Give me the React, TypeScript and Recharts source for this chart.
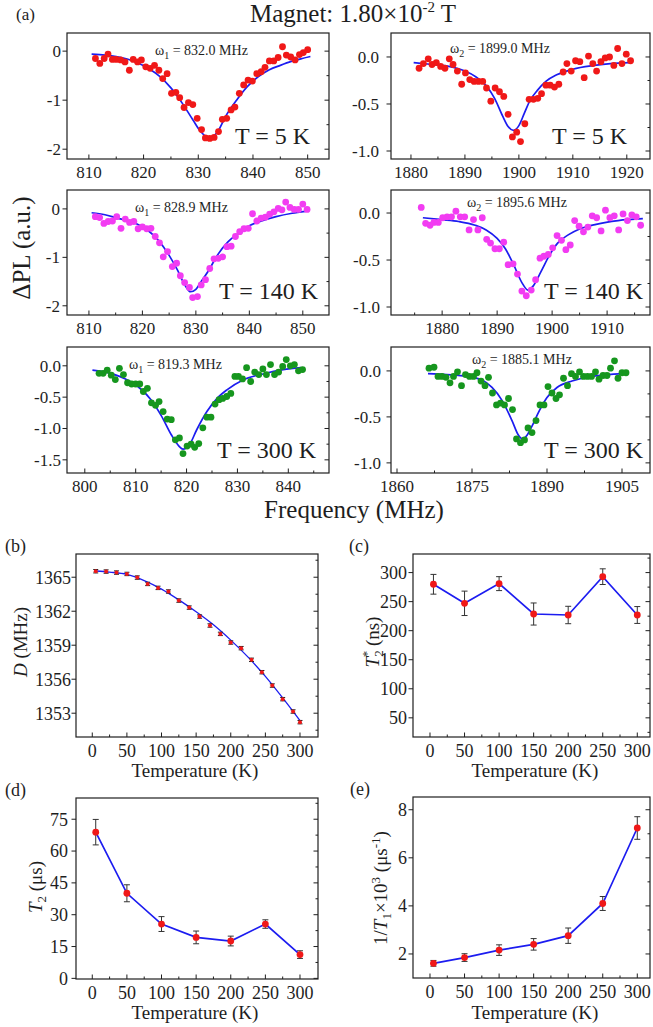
import React from "react";
import { ComposedChart, Scatter, Line, XAxis, YAxis, ErrorBar } from "recharts";

const FONT = '"Liberation Serif","Times New Roman",Times,serif';
const INK = "#1e1e1e";
const BLUE = "#1c1cf0";
const RED = "#f01818";
const MAGENTA = "#f23cf2";
const GREEN = "#16961e";

type P = [number, number];

// ---------- (a) ODMR spectra: [frequency MHz, ΔPL] ----------
const pts5K_w1: P[] = [
  [811.2, -0.15], [812.0, -0.25], [812.8, -0.15], [813.5, -0.06], [814.3, -0.17], [815.0, -0.17],
  [815.8, -0.18], [816.6, -0.22], [817.4, -0.39], [818.1, -0.17], [818.9, -0.22], [819.6, -0.18],
  [820.4, -0.32], [821.2, -0.35], [822.0, -0.29], [822.8, -0.39], [823.5, -0.56], [824.3, -0.46],
  [825.1, -0.86], [825.9, -0.84], [826.6, -0.95], [827.4, -1.15], [828.2, -1.05], [829.0, -1.09],
  [829.8, -1.37], [830.6, -1.6], [831.3, -1.77], [832.1, -1.78], [832.9, -1.76], [833.7, -1.64],
  [834.4, -1.39], [835.2, -1.37], [836.0, -1.2], [836.7, -1.14], [837.5, -0.86], [838.3, -0.69],
  [839.1, -0.59], [839.9, -0.61], [840.7, -0.46], [841.5, -0.42], [842.2, -0.33], [843.0, -0.2],
  [843.8, -0.2], [844.6, -0.13], [845.4, 0.09], [846.1, -0.08], [846.9, -0.12], [847.7, -0.18],
  [848.5, -0.07], [849.2, -0.03], [850.0, 0.03],
];
const fit5K_w1: P[] = [
  [810.5, -0.06], [813, -0.08], [815, -0.11], [817, -0.16], [819, -0.24], [821, -0.36], [823, -0.52],
  [825, -0.75], [827, -1.05], [829, -1.4], [830.5, -1.65], [832, -1.77], [833.5, -1.65], [835, -1.33],
  [837, -1.0], [839, -0.72], [841, -0.52], [843, -0.38], [845, -0.29], [847, -0.21], [849, -0.15], [850.5, -0.11],
];

const pts5K_w2: P[] = [
  [1881.5, -0.12], [1882.3, -0.07], [1883.2, -0.02], [1883.9, -0.08], [1884.7, -0.06], [1885.5, -0.1],
  [1886.3, -0.12], [1887.1, -0.02], [1887.8, -0.08], [1888.6, -0.15], [1889.4, -0.29], [1890.1, -0.17],
  [1890.9, -0.24], [1891.7, -0.26], [1892.5, -0.26], [1893.3, -0.26], [1894.0, -0.33], [1894.8, -0.47],
  [1895.6, -0.33], [1896.4, -0.37], [1897.2, -0.42], [1898.0, -0.61], [1898.8, -0.85], [1899.6, -0.8],
  [1900.3, -0.9], [1901.1, -0.71], [1901.9, -0.45], [1902.7, -0.45], [1903.5, -0.44], [1904.2, -0.39],
  [1905.0, -0.3], [1905.8, -0.3], [1906.6, -0.32], [1907.4, -0.29], [1908.2, -0.16], [1908.9, -0.07],
  [1909.7, -0.15], [1910.5, -0.04], [1911.3, -0.05], [1912.1, -0.22], [1912.9, 0.01], [1913.7, -0.07],
  [1914.4, -0.15], [1915.2, -0.05], [1916.0, -0.01], [1916.8, 0.0], [1917.6, -0.09], [1918.3, 0.09],
  [1919.1, -0.07], [1919.9, 0.03], [1920.7, -0.04],
];
const fit5K_w2: P[] = [
  [1880.5, -0.06], [1884, -0.08], [1887, -0.1], [1890, -0.15], [1892, -0.21], [1894, -0.31],
  [1895.5, -0.44], [1897, -0.63], [1898, -0.74], [1899, -0.78], [1900, -0.73], [1901, -0.6],
  [1902, -0.47], [1903.5, -0.35], [1905, -0.26], [1907, -0.19], [1910, -0.13], [1914, -0.09],
  [1917, -0.07], [1920.5, -0.06],
];

const pts140K_w1: P[] = [
  [811.2, -0.16], [812.0, -0.18], [812.8, -0.3], [813.6, -0.26], [814.4, -0.25], [815.2, -0.16],
  [816.0, -0.4], [816.8, -0.21], [817.6, -0.28], [818.4, -0.26], [819.2, -0.41], [820.0, -0.37],
  [820.8, -0.41], [821.6, -0.4], [822.4, -0.57], [823.2, -0.7], [823.9, -0.99], [824.7, -0.88],
  [825.6, -1.19], [826.4, -1.12], [827.1, -1.38], [827.9, -1.52], [828.8, -1.62], [829.4, -1.83],
  [830.3, -1.81], [831.0, -1.57], [831.8, -1.46], [832.6, -1.23], [833.4, -1.03], [834.2, -1.02],
  [835.0, -0.99], [835.8, -0.78], [836.6, -0.77], [837.4, -0.57], [838.2, -0.47], [839.0, -0.41],
  [839.8, -0.4], [840.6, -0.1], [841.4, -0.25], [842.2, -0.19], [843.0, -0.17], [843.8, -0.11],
  [844.6, -0.06], [845.4, 0.01], [846.1, -0.02], [846.8, 0.14], [847.6, 0.03], [848.4, -0.01],
  [849.2, -0.01], [850.0, 0.1], [850.8, -0.01],
];
const fit140K_w1: P[] = [
  [810.5, -0.08], [813, -0.12], [815, -0.18], [817, -0.24], [819, -0.31], [821, -0.44], [823, -0.65],
  [825, -0.96], [826.5, -1.25], [828, -1.58], [829, -1.71], [830, -1.66], [831, -1.5], [832.5, -1.25],
  [834, -0.96], [836, -0.68], [838, -0.5], [840, -0.35], [842, -0.26], [845, -0.16], [848, -0.09], [850.5, -0.05],
];

const pts140K_w2: P[] = [
  [1876.2, 0.06], [1877.0, -0.11], [1877.8, -0.13], [1878.5, -0.1], [1879.3, -0.1], [1880.1, -0.05],
  [1880.9, -0.04], [1881.7, -0.04], [1882.5, 0.02], [1883.3, -0.04], [1884.1, -0.04], [1884.9, -0.18],
  [1885.7, -0.07], [1886.5, -0.18], [1887.3, -0.05], [1888.1, -0.28], [1888.8, -0.32], [1889.6, -0.38],
  [1890.4, -0.38], [1891.2, -0.31], [1892.0, -0.55], [1892.9, -0.54], [1893.7, -0.65], [1894.5, -0.83],
  [1895.3, -0.88], [1896.2, -0.82], [1897.0, -0.71], [1897.8, -0.48], [1898.5, -0.46], [1899.3, -0.44],
  [1900.1, -0.37], [1900.9, -0.24], [1901.7, -0.29], [1902.5, -0.39], [1903.3, -0.34], [1904.1, -0.08],
  [1904.9, -0.14], [1905.7, -0.2], [1906.5, -0.15], [1907.3, -0.03], [1908.1, -0.05], [1908.9, -0.19],
  [1909.7, 0.03], [1910.5, -0.05], [1911.3, -0.03], [1912.1, -0.18], [1912.9, -0.01], [1913.7, -0.08],
  [1914.5, -0.02], [1915.3, -0.04], [1916.1, -0.13],
];
const fit140K_w2: P[] = [
  [1876.5, -0.05], [1880, -0.07], [1883, -0.09], [1886, -0.13], [1888, -0.18], [1890, -0.27],
  [1891.5, -0.38], [1893, -0.55], [1894.5, -0.74], [1895.6, -0.82], [1896.5, -0.78], [1898, -0.62],
  [1899.5, -0.45], [1901, -0.32], [1903, -0.23], [1905, -0.17], [1908, -0.12], [1912, -0.08], [1916.5, -0.06],
];

const pts300K_w1: P[] = [
  [802.8, -0.12], [803.6, -0.12], [804.4, -0.07], [805.2, -0.15], [806.0, -0.22], [806.8, -0.04],
  [807.6, -0.14], [808.4, -0.27], [809.2, -0.29], [810.0, -0.29], [810.8, -0.29], [811.5, -0.41],
  [812.3, -0.36], [813.1, -0.59], [813.9, -0.63], [814.6, -0.57], [815.4, -0.73], [816.2, -0.85],
  [817.0, -0.86], [817.8, -1.18], [818.6, -1.15], [819.3, -1.4], [820.1, -1.28], [820.9, -1.25],
  [821.6, -1.3], [822.4, -1.24], [823.2, -0.99], [824.0, -0.82], [824.8, -0.82], [825.6, -0.61],
  [826.4, -0.54], [827.1, -0.52], [827.9, -0.49], [828.7, -0.44], [829.5, -0.17], [830.2, -0.17],
  [831.0, -0.21], [831.8, -0.03], [832.6, -0.25], [833.4, -0.1], [834.2, -0.14], [835.0, -0.05],
  [835.7, -0.14], [836.5, 0.02], [837.3, -0.14], [838.1, -0.1], [838.9, -0.01], [839.6, 0.1],
  [840.4, 0.0], [841.2, 0.02], [842.0, -0.08], [842.8, -0.06],
];
const fit300K_w1: P[] = [
  [801.5, -0.07], [805, -0.12], [808, -0.21], [811, -0.37], [813, -0.54], [815, -0.79], [817, -1.1],
  [818.5, -1.28], [819.3, -1.33], [820.5, -1.27], [822, -1.02], [824, -0.73], [826, -0.52], [828, -0.38],
  [831, -0.23], [835, -0.13], [839, -0.06], [842.5, -0.03],
];

const pts300K_w2: P[] = [
  [1866.4, 0.03], [1867.4, 0.04], [1868.2, -0.06], [1869.0, -0.06], [1869.8, -0.07], [1870.6, -0.13],
  [1871.3, -0.06], [1872.1, -0.01], [1872.9, -0.16], [1873.7, -0.04], [1874.5, -0.06], [1875.3, -0.06],
  [1876.0, -0.02], [1876.8, -0.11], [1877.6, -0.16], [1878.3, -0.07], [1879.1, -0.24], [1879.9, -0.37],
  [1880.7, -0.35], [1881.5, -0.37], [1882.3, -0.3], [1883.1, -0.42], [1883.9, -0.74], [1884.7, -0.78],
  [1885.5, -0.75], [1886.2, -0.62], [1887.0, -0.67], [1887.8, -0.54], [1888.6, -0.37], [1889.4, -0.37],
  [1890.2, -0.17], [1891.0, -0.24], [1891.8, -0.3], [1892.5, -0.26], [1893.3, -0.08], [1894.1, -0.16],
  [1894.9, -0.03], [1895.7, -0.06], [1896.5, -0.01], [1897.3, -0.06], [1898.1, -0.06], [1898.9, -0.06],
  [1899.7, -0.01], [1900.4, -0.09], [1901.2, -0.05], [1902.0, -0.05], [1902.7, 0.03], [1903.5, 0.11],
  [1904.2, -0.08], [1905.0, -0.02], [1905.8, -0.02],
];
const fit300K_w2: P[] = [
  [1866.2, -0.03], [1870, -0.04], [1874, -0.06], [1877, -0.1], [1879, -0.18], [1881, -0.32],
  [1883, -0.54], [1884.3, -0.7], [1885.1, -0.74], [1886, -0.7], [1887, -0.6], [1888.5, -0.43],
  [1890, -0.29], [1892, -0.18], [1895, -0.11], [1899, -0.06], [1905.3, -0.03],
];

// tick values for (a)
const xMajA1 = [810, 820, 830, 840, 850];
const xMinA1 = [815, 825, 835, 845];
const xMajA2 = [1880, 1890, 1900, 1910, 1920];
const xMinA2 = [1885, 1895, 1905, 1915];
const xMajA4 = [1880, 1890, 1900, 1910];
const xMinA4 = [1875, 1885, 1895, 1905, 1915];
const xMajA5 = [800, 810, 820, 830, 840];
const xMinA5 = [805, 815, 825, 835, 845];
const xMajA6 = [1860, 1875, 1890, 1905];
const xMinA6 = [1867.5, 1882.5, 1897.5];
const yMajInt = [-2, -1, 0];
const yMinInt = [-1.5, -0.5];
const yMajHalf = [-1, -0.5, 0];
const yMinHalf = [-0.75, -0.25];
const yMajA5 = [-1.5, -1, -0.5, 0];
const yMinA5 = [-1.25, -0.75, -0.25];

// ---------- (b) zero-field splitting D vs temperature ----------
const tempsB = [5, 20, 35, 50, 65, 80, 95, 110, 125, 140, 155, 170, 185, 200, 215, 230, 245, 260, 275, 290, 300];
const dValues = [
  1365.53, 1365.5, 1365.41, 1365.29, 1364.97, 1364.41, 1364.06, 1363.74, 1362.94, 1362.32, 1361.53,
  1360.74, 1360.0, 1359.24, 1358.74, 1357.71, 1356.62, 1355.44, 1354.24, 1353.15, 1352.21,
];
const dErrors = tempsB.map(() => 0.15);
const dFit: P[] = [
  [5, 1365.55], [25, 1365.45], [50, 1365.25], [75, 1364.7], [100, 1363.95], [125, 1363.0], [150, 1361.95],
  [175, 1360.8], [200, 1359.45], [225, 1357.95], [250, 1356.25], [275, 1354.35], [300, 1352.35],
];
const yMajB = [1353, 1356, 1359, 1362, 1365];
const yMinB = [1351.5, 1354.5, 1357.5, 1360.5, 1363.5, 1366.5];

// ---------- (c)-(e) ----------
const temps = [5, 50, 100, 150, 200, 250, 300];
const t2star = [279.9, 247.1, 281, 228.7, 227, 293, 227];
const t2starErr = [17, 21, 12, 19, 15, 13.5, 14.5];
const t2 = [68.9, 40.1, 25.6, 19.3, 17.6, 25.6, 11.2];
const t2Err = [6, 4, 3.5, 3, 2.3, 2, 1.8];
const invT1 = [1.61, 1.85, 2.16, 2.4, 2.76, 4.1, 7.24];
const invT1Err = [0.12, 0.16, 0.22, 0.24, 0.32, 0.29, 0.47];

const tempMaj = [0, 50, 100, 150, 200, 250, 300];
const tempMin = [25, 75, 125, 175, 225, 275];
const yMajC = [50, 100, 150, 200, 250, 300];
const yMinC = [25, 75, 125, 175, 225, 275, 325];
const yMajD = [0, 15, 30, 45, 60, 75];
const yMinD = [7.5, 22.5, 37.5, 52.5, 67.5, 82.5];
const yMajE = [2, 4, 6, 8];
const yMinE = [3, 5, 7];

const toXY = (arr: P[]) => arr.map(([x, y]) => ({ x, y }));
const zipE = (xs: number[], ys: number[], es: number[]) => xs.map((x, i) => ({ x, y: ys[i], e: es[i] }));
const isIn = (arr: number[], v: number) => arr.some((m) => Math.abs(m - v) < 1e-9);

const makeDot = (color: string, r: number) => (props: any) => {
  if (props.cx == null || props.cy == null) return <g key={props.key} />;
  return <circle key={props.key} cx={props.cx} cy={props.cy} r={r} fill={color} stroke="none" />;
};

const makeXTick = (majors: number[], fs: number, gap: number) => (props: any) => {
  const { x, y, payload } = props;
  const v = payload.value;
  const major = isIn(majors, v);
  const edge = y - gap;
  return (
    <g>
      <line x1={x} x2={x} y1={edge} y2={edge - (major ? 4.5 : 2.5)} stroke={INK} strokeWidth={1} />
      {major && (
        <text x={x} y={y} dy="0.71em" textAnchor="middle" style={{ fontSize: fs, fontFamily: FONT, fill: INK }}>
          {String(v)}
        </text>
      )}
    </g>
  );
};
// left axis: majors get an outward tick + label; every tick gets an inward tick on the right frame edge
const makeYTick = (majors: number[], fmt: (v: number) => string, fs: number, gap: number, plotW: number) => (props: any) => {
  const { x, y, payload } = props;
  const v = payload.value;
  const major = isIn(majors, v);
  const edge = x + gap;
  const right = edge + plotW;
  return (
    <g>
      {major && <line x1={edge - 4.5} x2={edge} y1={y} y2={y} stroke={INK} strokeWidth={1} />}
      <line x1={right} x2={right - (major ? 4.5 : 2.5)} y1={y} y2={y} stroke={INK} strokeWidth={1} />
      {major && (
        <text x={x} y={y} dy="0.35em" textAnchor="end" style={{ fontSize: fs, fontFamily: FONT, fill: INK }}>
          {fmt(v)}
        </text>
      )}
    </g>
  );
};

type Box = [number, number, number, number];

function Frame({ box, children, xDomain, xMaj, xMin, yDomain, yMaj, yMin, yFmt, yGap, xGap, fs }: any) {
  const YW = 70, XH = 32, MT = 1, MR = 1;
  const [l, t, r, b] = box;
  const w = r - l, h = b - t;
  const xTicks = [...xMaj, ...xMin].sort((a, c) => a - c);
  const yTicks = [...yMaj, ...yMin].sort((a, c) => a - c);
  return (
    <div style={{ position: "absolute", left: l - YW, top: t - MT }}>
      <ComposedChart width={YW + w + MR} height={MT + h + XH} margin={{ top: MT, right: MR, left: 0, bottom: 0 }}>
        <XAxis xAxisId="b" dataKey="x" type="number" domain={xDomain} ticks={xTicks} allowDataOverflow
          height={XH} axisLine={false} tickSize={0} tickLine={false} tickMargin={xGap} interval={0}
          tick={makeXTick(xMaj, fs, xGap)} />
        <YAxis yAxisId="l" type="number" domain={yDomain} ticks={yTicks} allowDataOverflow width={YW}
          axisLine={false} tickSize={0} tickLine={false} tickMargin={yGap} interval={0}
          tick={makeYTick(yMaj, yFmt, fs, yGap, w)} />
        {children}
      </ComposedChart>
    </div>
  );
}

function SpecPanel({ box, xDomain, xMaj, xMin, yDomain, yMaj, yMin, yFmt, yGap, points, fit, color }: any) {
  const pts = toXY(points);
  const fitPts = toXY(fit);
  return (
    <Frame box={box} xDomain={xDomain} xMaj={xMaj} xMin={xMin} yDomain={yDomain} yMaj={yMaj} yMin={yMin}
      yFmt={yFmt} yGap={yGap} xGap={7} fs={17}>
      <Scatter xAxisId="b" yAxisId="l" data={pts} dataKey="y" shape={makeDot(color, 3.4)} isAnimationActive={false} />
      <Line xAxisId="b" yAxisId="l" data={fitPts} dataKey="y" type="monotone" stroke={BLUE} strokeWidth={1.7}
        dot={false} activeDot={false} isAnimationActive={false} />
    </Frame>
  );
}

function TempPanel({ box, xDomain, yDomain, yMaj, yMin, yGap, xs, ys, es }: any) {
  const pts = zipE(xs, ys, es);
  return (
    <Frame box={box} xDomain={xDomain} xMaj={tempMaj} xMin={tempMin} yDomain={yDomain} yMaj={yMaj} yMin={yMin}
      yFmt={(v: number) => String(v)} yGap={yGap} xGap={7.5} fs={18}>
      <Line xAxisId="b" yAxisId="l" data={pts} dataKey="y" type="linear" stroke={BLUE} strokeWidth={1.7}
        dot={makeDot(RED, 3.4)} activeDot={false} isAnimationActive={false}>
        <ErrorBar dataKey="e" width={3} stroke="#333" strokeWidth={1} direction="y" />
      </Line>
    </Frame>
  );
}

function DPanel({ box }: { box: Box }) {
  const pts = zipE(tempsB, dValues, dErrors);
  const fitPts = toXY(dFit);
  return (
    <Frame box={box} xDomain={[-23.5, 326]} xMaj={tempMaj} xMin={tempMin} yDomain={[1350.9, 1367.05]}
      yMaj={yMajB} yMin={yMinB} yFmt={(v: number) => String(v)} yGap={5} xGap={7.5} fs={18}>
      <Line xAxisId="b" yAxisId="l" data={fitPts} dataKey="y" type="monotone" stroke={BLUE} strokeWidth={1.3}
        dot={false} activeDot={false} isAnimationActive={false} />
      <Scatter xAxisId="b" yAxisId="l" data={pts} dataKey="y" shape={makeDot(RED, 2)} isAnimationActive={false}>
        <ErrorBar dataKey="e" width={2.5} stroke="#222" strokeWidth={1} direction="y" />
      </Scatter>
    </Frame>
  );
}

const fmtInt = (v: number) => String(v);
const fmt1 = (v: number) => v.toFixed(1);

const BOXES: Box[] = [
  [67, 33, 329, 159], [391, 33, 650, 159],
  [67, 190, 329, 315], [391, 190, 650, 315],
  [67, 347, 329, 473], [391, 347, 650, 473],
  [76, 554, 318, 737], [413, 554, 650, 737],
  [76, 798, 318, 979], [413, 797, 650, 978],
];

export default function App() {
  return (
    <div style={{ position: "absolute", left: 0, top: 0, width: 653, height: 1027, background: "#fff", fontFamily: FONT }}>
      {/* (a) */}
      <SpecPanel box={BOXES[0]} xDomain={[806.0, 853.9]} xMaj={xMajA1} xMin={xMinA1}
        yDomain={[-2.2, 0.37]} yMaj={yMajInt} yMin={yMinInt} yFmt={fmtInt} yGap={6} points={pts5K_w1} fit={fit5K_w1} color={RED} />
      <SpecPanel box={BOXES[1]} xDomain={[1876.3, 1924.3]} xMaj={xMajA2} xMin={xMinA2}
        yDomain={[-1.085, 0.255]} yMaj={yMajHalf} yMin={yMinHalf} yFmt={fmt1} yGap={12} points={pts5K_w2} fit={fit5K_w2} color={RED} />
      <SpecPanel box={BOXES[2]} xDomain={[805.9, 854.9]} xMaj={xMajA1} xMin={xMinA1}
        yDomain={[-2.19, 0.39]} yMaj={yMajInt} yMin={yMinInt} yFmt={fmtInt} yGap={7} points={pts140K_w1} fit={fit140K_w1} color={MAGENTA} />
      <SpecPanel box={BOXES[3]} xDomain={[1870.7, 1917.8]} xMaj={xMajA4} xMin={xMinA4}
        yDomain={[-1.085, 0.245]} yMaj={yMajHalf} yMin={yMinHalf} yFmt={fmt1} yGap={11} points={pts140K_w2} fit={fit140K_w2} color={MAGENTA} />
      <SpecPanel box={BOXES[4]} xDomain={[796.5, 848]} xMaj={xMajA5} xMin={xMinA5}
        yDomain={[-1.71, 0.3]} yMaj={yMajA5} yMin={yMinA5} yFmt={fmt1} yGap={6} points={pts300K_w1} fit={fit300K_w1} color={GREEN} />
      <SpecPanel box={BOXES[5]} xDomain={[1858.8, 1910.6]} xMaj={xMajA6} xMin={xMinA6}
        yDomain={[-1.11, 0.26]} yMaj={yMajHalf} yMin={yMinHalf} yFmt={fmt1} yGap={10} points={pts300K_w2} fit={fit300K_w2} color={GREEN} />

      {/* (b)-(e) */}
      <DPanel box={BOXES[6]} />
      <TempPanel box={BOXES[7]} xDomain={[-24.6, 318.4]} yDomain={[17, 332]}
        yMaj={yMajC} yMin={yMinC} yGap={6} xs={temps} ys={t2star} es={t2starErr} />
      <TempPanel box={BOXES[8]} xDomain={[-23.5, 326]} yDomain={[-0.3, 85]}
        yMaj={yMajD} yMin={yMinD} yGap={8} xs={temps} ys={t2} es={t2Err} />
      <TempPanel box={BOXES[9]} xDomain={[-24.6, 318.4]} yDomain={[1.0, 8.53]}
        yMaj={yMajE} yMin={yMinE} yGap={6} xs={temps} ys={invT1} es={invT1Err} />

      <svg width={653} height={1027} style={{ position: "absolute", left: 0, top: 0, pointerEvents: "none" }}
        fontFamily={FONT} fill={INK}>
        {BOXES.map(([l, t, r, b], i) => (
          <rect key={i} x={l} y={t} width={r - l} height={b - t} fill="none" stroke={INK} strokeWidth={1.2} />
        ))}
        <text x={16} y={20} fontSize={17}>(a)</text>
        <text x={250} y={22} fontSize={25}>Magnet: 1.80×10<tspan dy={-10} fontSize={15}>-2</tspan><tspan dy={10}> T</tspan></text>

        <text x={155} y={55} fontSize={14}>ω<tspan dy={4} fontSize={10}>1</tspan><tspan dy={-4}> = 832.0 MHz</tspan></text>
        <text x={450} y={53} fontSize={14}>ω<tspan dy={4} fontSize={10}>2</tspan><tspan dy={-4}> = 1899.0 MHz</tspan></text>
        <text x={135} y={212} fontSize={14}>ω<tspan dy={4} fontSize={10}>1</tspan><tspan dy={-4}> = 828.9 MHz</tspan></text>
        <text x={467} y={207} fontSize={14}>ω<tspan dy={4} fontSize={10}>2</tspan><tspan dy={-4}> = 1895.6 MHz</tspan></text>
        <text x={129} y={369} fontSize={14}>ω<tspan dy={4} fontSize={10}>1</tspan><tspan dy={-4}> = 819.3 MHz</tspan></text>
        <text x={472} y={364} fontSize={14}>ω<tspan dy={4} fontSize={10}>2</tspan><tspan dy={-4}> = 1885.1 MHz</tspan></text>

        <text x={235} y={144} fontSize={24}>T = 5 K</text>
        <text x={552} y={144} fontSize={24}>T = 5 K</text>
        <text x={219} y={299} fontSize={24}>T = 140 K</text>
        <text x={544} y={299} fontSize={24}>T = 140 K</text>
        <text x={217} y={458} fontSize={24}>T = 300 K</text>
        <text x={544} y={458} fontSize={24}>T = 300 K</text>

        <text transform="translate(30,248) rotate(-90)" textAnchor="middle" fontSize={25}>ΔPL (a.u.)</text>
        <text x={354} y={518} textAnchor="middle" fontSize={25}>Frequency (MHz)</text>

        <text x={5} y={552} fontSize={18}>(b)</text>
        <text x={349} y={552} fontSize={18}>(c)</text>
        <text x={5} y={796} fontSize={18}>(d)</text>
        <text x={350} y={795} fontSize={18}>(e)</text>

        <text transform="translate(27,642) rotate(-90)" textAnchor="middle" fontSize={19}>
          <tspan fontStyle="italic">D</tspan> (MHz)
        </text>
        <text transform="translate(379,642) rotate(-90)" textAnchor="middle" fontSize={19}>
          <tspan fontStyle="italic">T</tspan><tspan dy={4} fontSize={13}>2</tspan><tspan dx={-7} dy={-12} fontSize={13}>*</tspan><tspan dy={8}> (ns)</tspan>
        </text>
        <text transform="translate(42,887) rotate(-90)" textAnchor="middle" fontSize={19}>
          <tspan fontStyle="italic">T</tspan><tspan dy={4} fontSize={13}>2</tspan><tspan dy={-4}> (μs)</tspan>
        </text>
        <text transform="translate(387,888) rotate(-90)" textAnchor="middle" fontSize={19}>
          1/<tspan fontStyle="italic">T</tspan><tspan dy={4} fontSize={13}>1</tspan><tspan dy={-4}>×10</tspan><tspan dy={-7} fontSize={13}>3</tspan><tspan dy={7}> (μs</tspan><tspan dy={-7} fontSize={13}>-1</tspan><tspan dy={7}>)</tspan>
        </text>

        <text x={195} y={777} textAnchor="middle" fontSize={19}>Temperature (K)</text>
        <text x={535} y={777} textAnchor="middle" fontSize={19}>Temperature (K)</text>
        <text x={195} y={1019} textAnchor="middle" fontSize={19}>Temperature (K)</text>
        <text x={535} y={1019} textAnchor="middle" fontSize={19}>Temperature (K)</text>
      </svg>
    </div>
  );
}
